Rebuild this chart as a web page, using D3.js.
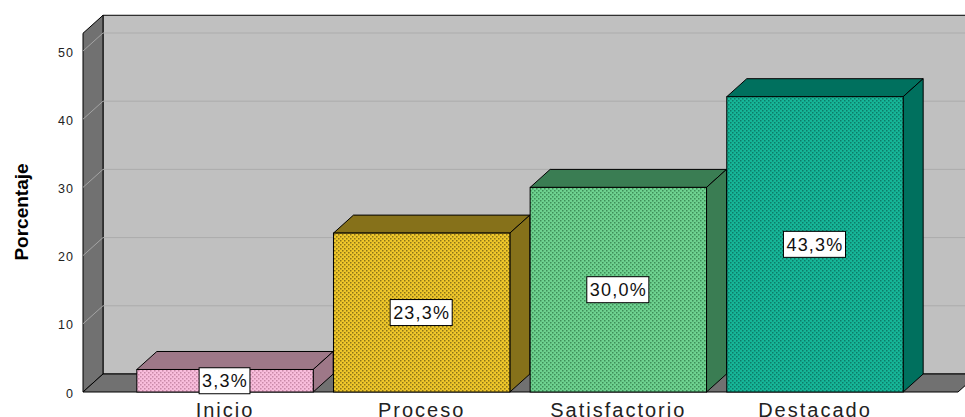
<!DOCTYPE html>
<html>
<head>
<meta charset="utf-8">
<script src="https://cdn.jsdelivr.net/npm/d3@7"></script>
<style>
  body { margin: 0; background: #fff; }
  svg { display: block; }
</style>
</head>
<body>
<div id="chart"></div>
<script>
const categories = ["Inicio", "Proceso", "Satisfactorio", "Destacado"];
const values = [3.3, 23.3, 30.0, 43.3];
const valueLabels = ["3,3%", "23,3%", "30,0%", "43,3%"];
const yTicks = [0, 10, 20, 30, 40, 50];

// front face colour, dot colour, top/side colour
const fronts = ["#f9bddc", "#efc72a", "#6ed290", "#16b698"];
const dots = ["#c98aa8", "#8c7418", "#3e8e58", "#0c7c68"];
const sides = ["#9e7888", "#86711a", "#3a7d53", "#00705e"];

const W = 965, H = 417;
const dx = 20, dy = 18;          // depth offset of the 3d box
const x0 = 83, x1 = 958;        // front edge of the floor
const yMax = 52.6;

const svg = d3.select("#chart").append("svg")
    .attr("width", W)
    .attr("height", H);

const defs = svg.append("defs");
fronts.forEach((c, i) => {
    const p = defs.append("pattern")
        .attr("id", "dots" + i)
        .attr("patternUnits", "userSpaceOnUse")
        .attr("width", 4)
        .attr("height", 4);
    p.append("rect").attr("width", 4).attr("height", 4).attr("fill", c);
    p.append("rect").attr("x", 0).attr("y", 0).attr("width", 1.5).attr("height", 1.5).attr("fill", dots[i]);
    p.append("rect").attr("x", 2).attr("y", 2).attr("width", 1.5).attr("height", 1.5).attr("fill", dots[i]);
});

const y = d3.scaleLinear()
    .domain([0, 50])
    .range([392, 51]);

const x = d3.scaleBand()
    .domain(categories)
    .range([127, 913])
    .paddingInner(0.103)
    .paddingOuter(0.05);

const yTop = y(yMax), yBase = y(0);

// back wall
svg.append("polygon")
    .attr("points", [[x0 + dx, yTop - dy], [x1 + dx, yTop - dy], [x1 + dx, yBase - dy], [x0 + dx, yBase - dy]].join(" "))
    .attr("fill", "#c0c0c0")
    .attr("stroke", "#000")
    .attr("stroke-width", 1);

// left wall
svg.append("polygon")
    .attr("points", [[x0, yTop], [x0 + dx, yTop - dy], [x0 + dx, yBase - dy], [x0, yBase]].join(" "))
    .attr("fill", "#717171")
    .attr("stroke", "#000")
    .attr("stroke-width", 1);

// floor
svg.append("polygon")
    .attr("points", [[x0, yBase], [x0 + dx, yBase - dy], [x1 + dx, yBase - dy], [x1, yBase]].join(" "))
    .attr("fill", "#717171")
    .attr("stroke", "#000")
    .attr("stroke-width", 1);

// gridlines
const grid = svg.append("g");
yTicks.filter(t => t > 0).forEach(t => {
    grid.append("line")
        .attr("x1", x0 + dx).attr("x2", x1 + dx)
        .attr("y1", y(t) - dy).attr("y2", y(t) - dy)
        .attr("stroke", "#acacac");
    grid.append("line")
        .attr("x1", x0).attr("x2", x0 + dx)
        .attr("y1", y(t)).attr("y2", y(t) - dy)
        .attr("stroke", "#a4a4a4");
});

// y axis labels
const yAxis = svg.append("g")
    .attr("transform", `translate(${x0 - 9},0)`)
    .call(d3.axisLeft(y).tickValues(yTicks).tickSize(0).tickPadding(0));
yAxis.select(".domain").remove();
yAxis.selectAll("text")
    .attr("font-family", "Liberation Sans, Arial, sans-serif")
    .attr("font-size", "12.5px")
    .attr("letter-spacing", "1px")
    .attr("fill", "#222")
    .attr("dy", "0.4em");

svg.append("text")
    .attr("transform", `translate(28,212) rotate(-90)`)
    .attr("text-anchor", "middle")
    .attr("font-family", "Liberation Sans Narrow, Arial Narrow, sans-serif")
    .attr("font-weight", "bold")
    .attr("font-size", "19px")
    .attr("fill", "#000")
    .text("Porcentaje");

// bars
const bw = x.bandwidth();
const bars = svg.append("g")
    .selectAll("g")
    .data(categories)
    .join("g");

bars.append("polygon")
    .attr("points", (d, i) => {
        const bx = x(d), by = y(values[i]);
        return [[bx, by], [bx + dx, by - dy], [bx + bw + dx, by - dy], [bx + bw, by]].join(" ");
    })
    .attr("fill", (d, i) => sides[i])
    .attr("stroke", "#000");

bars.append("polygon")
    .attr("points", (d, i) => {
        const bx = x(d) + bw, by = y(values[i]);
        return [[bx, by], [bx + dx, by - dy], [bx + dx, yBase - dy], [bx, yBase]].join(" ");
    })
    .attr("fill", (d, i) => sides[i])
    .attr("stroke", "#000");

bars.append("rect")
    .attr("x", d => x(d))
    .attr("y", (d, i) => y(values[i]))
    .attr("width", bw)
    .attr("height", (d, i) => yBase - y(values[i]))
    .attr("fill", (d, i) => `url(#dots${i})`)
    .attr("stroke", "#000");

// value labels
bars.each(function (d, i) {
    const g = d3.select(this);
    const cx = x(d) + bw / 2;
    const cy = y(values[i] / 2);
    const t = g.append("text")
        .attr("x", cx)
        .attr("y", cy)
        .attr("dy", "0.36em")
        .attr("text-anchor", "middle")
        .attr("font-family", "Liberation Sans, Arial, sans-serif")
        .attr("font-size", "18px")
        .attr("letter-spacing", "1.2px")
        .attr("fill", "#111")
        .text(valueLabels[i]);
    const b = t.node().getBBox();
    g.insert("rect", "text")
        .attr("x", b.x - 3)
        .attr("y", cy - 13)
        .attr("width", b.width + 5)
        .attr("height", 26)
        .attr("fill", "#fff")
        .attr("stroke", "#000")
        .attr("stroke-width", 1);
});

// category labels
svg.append("g")
    .selectAll("text")
    .data(categories)
    .join("text")
    .attr("x", d => x(d) + bw / 2)
    .attr("y", 417)
    .attr("text-anchor", "middle")
    .attr("font-family", "Liberation Sans, Arial, sans-serif")
    .attr("font-size", "20px")
    .attr("letter-spacing", "2px")
    .attr("fill", "#222")
    .text(d => d);
</script>
</body>
</html>
